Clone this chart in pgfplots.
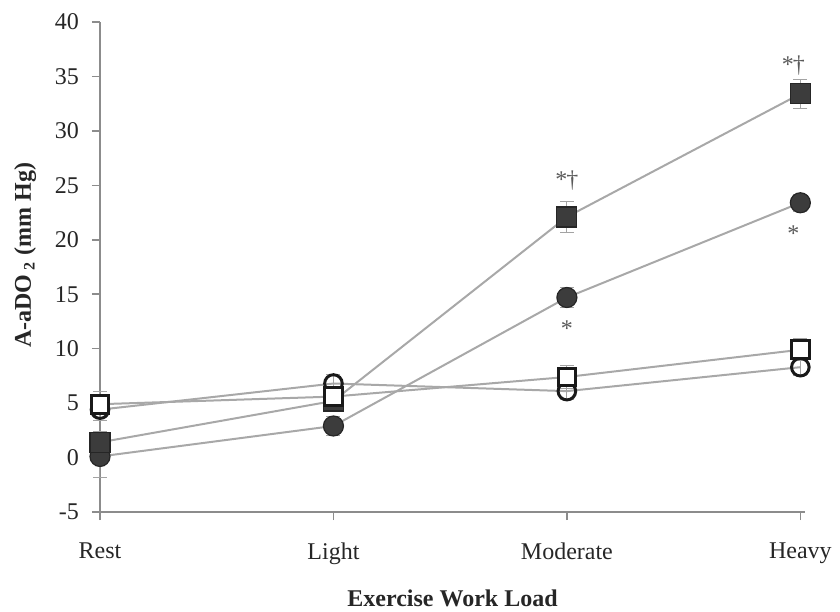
\documentclass[border=0pt]{standalone}
\usepackage{pgfplots}
\pgfplotsset{compat=1.18}
\usepackage{pgfplotstable}
\usepackage{fontspec}
\setmainfont{Liberation Serif}
\definecolor{axisgray}{HTML}{8C8C8C}
\definecolor{linegray}{HTML}{A8A8A8}
\definecolor{markfill}{HTML}{3C3C3C}
\definecolor{markdraw}{HTML}{262626}
\definecolor{annot}{HTML}{5A5A5A}

\pgfplotstableread{
x y e
0 1.4 1.0
1 5.2 0.8
2 22.1 1.4
3 33.4 1.3
}\fsq
\pgfplotstableread{
x y e
0 0.1 1.9
1 2.9 0.9
2 14.7 0.9
3 23.4 0.8
}\fci
\pgfplotstableread{
x y e
0 4.9 1.2
1 5.6 0.9
2 7.4 1.1
3 9.9 1.0
}\osq
\pgfplotstableread{
x y e
0 4.4 1.0
1 6.8 0.8
2 6.1 0.8
3 8.3 0.8
}\oci

\pgfplotsset{
  errline/.style={linegray, line width=1pt, mark=none,
    error bars/.cd, y dir=both, y explicit,
    error bar style={axisgray!80, line width=0.5pt},
    error mark options={rotate=90, mark size=3.5pt, axisgray!80, line width=0.5pt}},
}

\begin{document}
\begin{tikzpicture}
\useasboundingbox (-50pt,-49.5pt) rectangle (370pt,256pt);
\begin{axis}[
  scale only axis, width=352.5pt, height=245pt,
  xmin=0, xmax=3.02, ymin=-5, ymax=40,
  xtick={0,1,2,3}, xticklabels={Rest,Light,Moderate,Heavy},
  ytick={-5,0,...,40},
  axis x line*=bottom, axis y line*=left,
  axis line style={draw=axisgray, line width=0.8pt, -},
  tick align=outside, major tick length=4pt,
  tick style={axisgray, line width=0.8pt},
  /pgf/number format/assume math mode=true,
  tick label style={font=\fontsize{12}{14}\selectfont, text=black!85},
  xticklabel style={yshift=-8pt},
  yticklabel style={xshift=-3pt},
  label style={font=\fontsize{12}{14}\selectfont\bfseries, text=black!85},
  xlabel={Exercise Work Load},
  ylabel={A-aDO\,\textsubscript{2} (mm Hg)},
  xlabel style={at={(axis description cs:0.5,-0.145)}, anchor=north},
  ylabel style={at={(axis description cs:-0.106,0.524)}, anchor=center},
  clip=false,
]
% lines with error bars
\addplot[errline] table[x=x, y=y, y error=e]{\fsq};
\addplot[errline] table[x=x, y=y, y error=e]{\fci};
\addplot[errline] table[x=x, y=y, y error=e]{\osq};
\addplot[errline] table[x=x, y=y, y error=e]{\oci};
% markers
\addplot[only marks, mark=*, mark size=5pt,
  mark options={draw=markdraw, fill=markfill, line width=0.6pt}]
  table[x=x, y=y]{\fci};
\addplot[only marks, mark=square*, mark size=5pt,
  mark options={draw=markdraw, fill=markfill, line width=0.6pt}]
  table[x=x, y=y]{\fsq};
\addplot[only marks, mark=o, mark size=4.4pt,
  mark options={draw=black!90, fill=white, line width=1.5pt}]
  table[x=x, y=y]{\oci};
\addplot[only marks, mark=square*, mark size=4.4pt,
  mark options={draw=black!90, fill=white, line width=1.5pt}]
  table[x=x, y=y]{\osq};
% significance marks
\node[text=annot, anchor=base, font=\fontsize{12}{14}\selectfont] at (axis cs:2,24.8) {*\kern-0.5pt†};
\node[text=annot, anchor=base, font=\fontsize{12}{14}\selectfont] at (axis cs:2.97,35.4) {*\kern-0.5pt†};
\node[text=annot, anchor=base, font=\fontsize{12}{14}\selectfont] at (axis cs:2,11.1) {*};
\node[text=annot, anchor=base, font=\fontsize{12}{14}\selectfont] at (axis cs:2.97,19.8) {*};
\end{axis}
\end{tikzpicture}
\end{document}
